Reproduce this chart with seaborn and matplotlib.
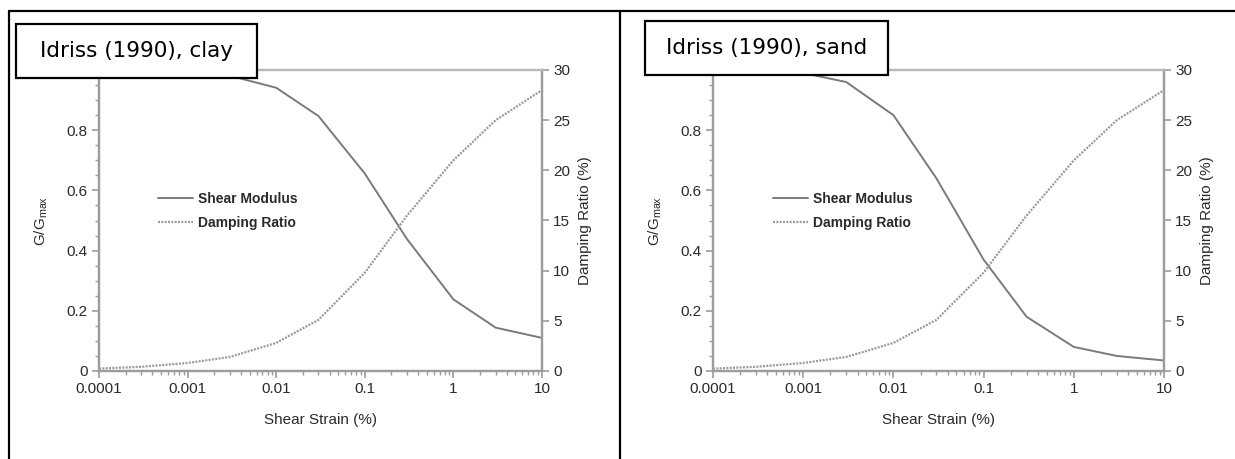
import matplotlib
matplotlib.use("Agg")
import matplotlib.pyplot as plt
from matplotlib.lines import Line2D
from matplotlib.patches import Rectangle
from matplotlib.ticker import LogLocator, FixedLocator, NullFormatter
import seaborn as sns
import pandas as pd
import numpy as np

# ---- data (Idriss 1990) ----
strain = [0.0001, 0.0003, 0.001, 0.003, 0.01, 0.03, 0.1, 0.3, 1.0, 3.0, 10.0]
clay_modulus = [1.0, 1.0, 1.0, 0.981, 0.941, 0.847, 0.656, 0.438, 0.238, 0.144, 0.110]
clay_damping = [0.24, 0.42, 0.8, 1.4, 2.8, 5.1, 9.8, 15.5, 21.0, 25.0, 28.0]
sand_modulus = [1.0, 1.0, 0.99, 0.96, 0.85, 0.64, 0.37, 0.18, 0.08, 0.05, 0.035]
sand_damping = [0.24, 0.42, 0.8, 1.4, 2.8, 5.1, 9.8, 15.5, 21.0, 25.0, 28.0]
panel_titles = ["Idriss (1990), clay", "Idriss (1990), sand"]
x_tick_values = [0.0001, 0.001, 0.01, 0.1, 1, 10]
x_tick_labels = ["0.0001", "0.001", "0.01", "0.1", "1", "10"]
y_tick_values = [0, 0.2, 0.4, 0.6, 0.8]
y_tick_labels = ["0", "0.2", "0.4", "0.6", "0.8"]
d_tick_values = [0, 5, 10, 15, 20, 25, 30]
series_names = ["Shear Modulus", "Damping Ratio"]

sns.set_style("white")
plt.rcParams["font.family"] = ["Liberation Sans", "DejaVu Sans"]

W, H = 1235, 459
fig = plt.figure(figsize=(W / 100, H / 100), dpi=100)

def fx(px):
    return px / W

def fy(py):
    return 1 - py / H

SPINE = "#9c9c9c"
TXT = "#2a2a2a"
MOD_C = "#7a7a7a"
DAMP_C = "#9a9a9a"
DOT = (0, (0.9, 0.6))

panels = [
    dict(left=99, right=542, mod=clay_modulus, damp=clay_damping,
         box=(16, 24, 257, 78), title=panel_titles[0]),
    dict(left=713, right=1164, mod=sand_modulus, damp=sand_damping,
         box=(645, 21, 888, 75), title=panel_titles[1]),
]
top_px, bot_px = 70, 371

for p in panels:
    ax = fig.add_axes([fx(p["left"]), fy(bot_px), fx(p["right"] - p["left"]), (bot_px - top_px) / H])
    ax2 = ax.twinx()
    df_m = pd.DataFrame({"strain": strain, "value": p["mod"]})
    df_d = pd.DataFrame({"strain": strain, "value": p["damp"]})
    sns.lineplot(data=df_m, x="strain", y="value", ax=ax, color=MOD_C, lw=1.4, legend=False)
    sns.lineplot(data=df_d, x="strain", y="value", ax=ax2, color=DAMP_C, lw=1.6,
                 linestyle=DOT, legend=False)
    ax.set_xscale("log")
    ax.set_xlim(1e-4, 10)
    ax.set_ylim(0, 1)
    ax2.set_ylim(0, 30)

    ax.xaxis.set_major_locator(FixedLocator(x_tick_values))
    ax.set_xticklabels(x_tick_labels)
    ax.xaxis.set_minor_locator(LogLocator(base=10, subs=np.arange(2, 10), numticks=20))
    ax.xaxis.set_minor_formatter(NullFormatter())
    ax.set_yticks(y_tick_values)
    ax.set_yticklabels(y_tick_labels)
    ax.yaxis.set_minor_locator(FixedLocator(np.arange(0, 1.0001, 0.05)))
    ax2.set_yticks(d_tick_values)
    ax2.set_yticklabels([str(v) for v in d_tick_values])

    for a in (ax, ax2):
        for s in a.spines.values():
            s.set_color(SPINE)
            s.set_linewidth(1.6)
    ax.spines["top"].set_color("#b8b8b8")
    ax2.spines["top"].set_color("#b8b8b8")

    ax.tick_params(axis="both", which="major", direction="out", length=5, width=1.2,
                   color=SPINE, labelsize=11, labelcolor=TXT, pad=3, bottom=True, left=True)
    ax.tick_params(axis="both", which="minor", direction="out", length=3, width=1.0,
                   color=SPINE, bottom=True, left=True)
    ax2.tick_params(axis="y", which="major", direction="out", length=5, width=1.2,
                    color=SPINE, labelsize=11, labelcolor=TXT, pad=3, right=True)

    ax.set_xlabel("Shear Strain (%)", fontsize=11, color=TXT, labelpad=12)
    ax.set_ylabel("G/G$_{\\mathregular{max}}$", fontsize=11, color=TXT, labelpad=12)
    ax2.set_ylabel("Damping Ratio (%)", fontsize=11, color=TXT, labelpad=6)
    ax.grid(False)
    ax2.grid(False)

    handles = [Line2D([], [], color=MOD_C, lw=1.4),
               Line2D([], [], color=DAMP_C, lw=1.6, linestyle=DOT)]
    leg = ax.legend(handles, series_names, loc="upper left",
                    bbox_to_anchor=(0.133, 0.595), frameon=False,
                    fontsize=10, handlelength=2.55, handletextpad=0.3,
                    labelspacing=0.75, borderpad=0, borderaxespad=0)
    for t in leg.get_texts():
        t.set_fontweight("bold")
        t.set_color(TXT)

    # label box
    x0, y0, x1, y1 = p["box"]
    rect = Rectangle((fx(x0), fy(y1)), fx(x1 - x0), (y1 - y0) / H, transform=fig.transFigure,
                     facecolor="white", edgecolor="black", linewidth=1.6, zorder=10)
    fig.add_artist(rect)
    fig.text(fx((x0 + x1) / 2), fy((y0 + y1) / 2), p["title"], ha="center", va="center",
             fontsize=15.5, family="DejaVu Sans", color="black", zorder=11)

# table borders
border_kw = dict(color="black", linewidth=1.6, transform=fig.transFigure)
fig.add_artist(Line2D([fx(9), 1], [fy(11), fy(11)], **border_kw))
fig.add_artist(Line2D([fx(9), fx(9)], [fy(11), 0], **border_kw))
fig.add_artist(Line2D([fx(620), fx(620)], [fy(11), 0], **border_kw))

fig.savefig("out.png", dpi=100)
